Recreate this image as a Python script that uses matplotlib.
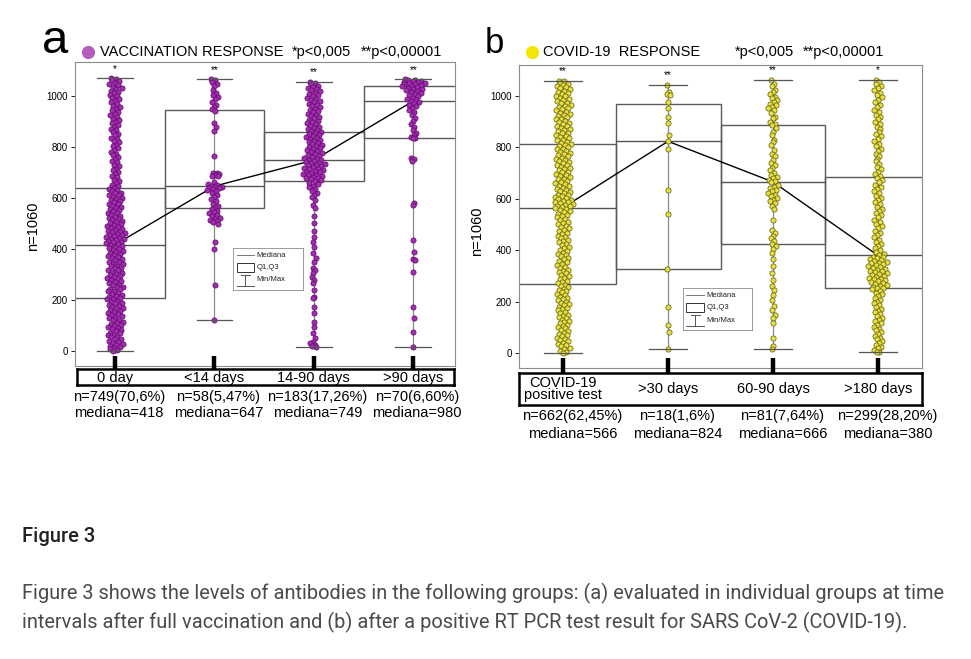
import numpy as np
import matplotlib
matplotlib.use('Agg')
import matplotlib.pyplot as plt
from matplotlib.patches import Rectangle
from matplotlib.lines import Line2D

plt.rcParams['font.family'] = ['Liberation Sans', 'DejaVu Sans']

# ---- panel a: vaccination response ----
vacc_labels = ['0 day', '<14 days', '14-90 days', '>90 days']
vacc_n = ['n=749(70,6%)', 'n=58(5,47%)', 'n=183(17,26%)', 'n=70(6,60%)']
vacc_median = [418, 647, 749, 980]
vacc_q1 = [208, 560, 669, 834]
vacc_q3 = [641, 945, 860, 1039]
vacc_min = [2, 123, 16, 16]
vacc_max = [1069, 1065, 1054, 1065]
vacc_stars = ['*', '**', '**', '**']

# antibody levels (dense clouds are thinned estimates)
vacc_0day = [1069, 1066, 1061, 1057, 1050, 1047, 1043, 1036, 1031, 1028, 1021, 1015, 1012, 1004, 999, 993,
             988, 980, 976, 969, 962, 958, 949, 944, 938, 931, 925, 919, 911, 906, 898, 893, 885, 879, 871,
             866, 858, 851, 846, 837, 831, 823, 818, 809, 803, 796, 790, 782, 774, 769, 760, 754, 746, 740,
             731, 725, 716, 710, 701, 695, 687, 681, 673, 667, 659, 652, 646,
             640, 637, 631, 628, 622, 620, 613, 611, 605, 602, 596, 593, 587, 584, 578, 576, 569, 567, 560,
             558, 552, 549, 543, 541, 534, 532, 526, 523, 517, 515, 509, 507, 501, 499, 493, 491, 486, 483,
             480, 476, 473, 469, 466, 463, 460, 457, 454, 451, 448, 445, 442, 439, 436, 433, 430, 427, 424, 421,
             417, 414, 408, 406, 400, 398, 392, 390, 384, 382, 376, 373, 368, 366, 360, 357, 352, 350, 344,
             341, 336, 334, 328, 325, 319, 317, 311, 309, 303, 300, 295, 292, 286, 284, 278, 276, 270, 268,
             262, 259, 253, 251, 245, 243, 237, 235, 229, 226, 221, 218, 212, 209,
             206, 204, 198, 195, 190, 188, 182, 179, 173, 171, 165, 163, 157, 154, 149, 146, 141, 138, 132,
             130, 124, 122, 116, 113, 108, 105, 99, 97, 91, 88, 83, 80, 74, 72, 66, 63, 58, 55, 49, 47, 41,
             38, 33, 30, 24, 22, 16, 13, 8, 5, 2]
vacc_14 = [1065, 1062, 1055, 1048, 1040, 1022, 1010, 1002, 995, 988, 978, 965, 955, 948, 942, 895, 880, 862,
           765, 700, 697, 693, 690, 688, 685, 662, 655, 652, 648, 645, 642, 640, 638, 636, 632, 628, 620, 612,
           603, 596, 588, 578, 570, 562, 556, 550, 545, 540, 535, 530, 524, 520, 516, 512, 505, 498, 430, 400,
           260, 122]
vacc_14_90 = [1054, 1049, 1045, 1041, 1036, 1032, 1027, 1022, 1018, 1013, 1008, 1003, 998, 994, 989, 984, 979,
              975, 969, 964, 960, 955, 950, 946, 941, 936, 931, 926, 921, 917, 912, 907, 902, 897, 893, 889,
              884, 879, 874, 870, 866, 862,
              858, 854, 850, 847, 843, 839, 835, 831, 827, 823, 819, 815, 811, 807, 803, 799, 795, 791, 788,
              784, 780, 776, 772, 768, 764, 760, 757, 753, 750,
              748, 745, 742, 739, 736, 734, 731, 728, 725, 722, 719, 716, 713, 710, 707, 704, 701, 698, 695,
              692, 689, 686, 683, 680, 677, 674, 671,
              667, 661, 655, 648, 642, 636, 629, 621, 613, 604,
              593, 575, 560, 530, 502, 470, 449, 430, 410, 384, 365, 351, 326, 319, 306, 293, 280, 267, 241,
              215, 208, 175, 150, 117, 97, 71, 52, 38, 32, 25, 21, 17]
vacc_90 = [1065, 1063, 1061, 1059, 1057, 1055, 1053, 1051, 1049, 1047, 1045, 1042, 1040, 1038, 1035, 1032,
           1029, 1026, 1022, 1018, 1014, 1010, 1006, 1002, 998, 994, 990, 985, 981, 977, 972, 966, 960, 953,
           945, 936, 926, 915, 903, 892, 880, 868, 857, 846, 840, 836, 834, 758, 752, 745, 580, 575, 436,
           391, 360, 356, 312, 175, 130, 78, 19]

# ---- panel b: covid-19 response ----
covid_labels = ['COVID-19\npositive test', '>30 days', '60-90 days', '>180 days']
covid_n = ['n=662(62,45%)', 'n=18(1,6%)', 'n=81(7,64%)', 'n=299(28,20%)']
covid_median = [566, 824, 666, 380]
covid_q1 = [268, 326, 423, 252]
covid_q3 = [813, 971, 887, 684]
covid_min = [1, 14, 17, 3]
covid_max = [1060, 1043, 1062, 1062]
covid_stars = ['**', '**', '**', '*']

covid_pos = [1060, 1057, 1051, 1048, 1042, 1039, 1034, 1030, 1027, 1020, 1017, 1011, 1008, 1002, 999, 993,
             990, 984, 981, 975, 972, 966, 963, 957, 954, 948, 945, 939, 936, 930, 927, 921, 918, 912, 909,
             903, 900, 894, 891, 885, 882, 876, 873, 867, 864, 858, 855, 849, 846, 840, 837, 831, 828, 822,
             819, 815,
             811, 805, 802, 796, 793, 787, 784, 778, 775, 769, 766, 760, 757, 751, 748, 742, 739, 733, 730,
             724, 721, 715, 712, 706, 703, 697, 694, 688, 685, 679, 676, 670, 667, 661, 658, 652, 649, 643,
             640, 634, 631, 626, 622, 617, 614, 610, 606, 602, 598, 595, 592, 589, 586, 583, 580, 577, 574,
             571, 568,
             565, 560, 557, 552, 548, 542, 538, 532, 528, 522, 518, 511, 507, 501, 496, 490, 486, 479, 475,
             468, 464, 457, 453, 446, 442, 435, 431, 424, 420, 413, 409, 402, 398, 391, 387, 380, 376, 369,
             365, 358, 354, 347, 343, 336, 332, 325, 321, 314, 310, 303, 299, 292, 288, 281, 277, 271,
             266, 260, 256, 250, 246, 240, 236, 230, 226, 220, 216, 210, 206, 200, 196, 190, 186, 180, 176,
             170, 166, 160, 156, 150, 146, 140, 136, 130, 126, 120, 116, 110, 106, 100, 96, 90, 86, 80, 76,
             70, 66, 60, 56, 50, 46, 40, 36, 30, 26, 20, 16, 10, 6, 2]
covid_30 = [1043, 1017, 1010, 1004, 978, 952, 919, 894, 848, 824, 796, 634, 541, 326, 180, 109, 83, 14]
covid_60_90 = [1062, 1049, 1040, 1023, 1016, 1010, 998, 991, 985, 978, 971, 965, 959, 952, 946, 933, 920, 914,
               900, 893, 888, 875, 862, 850, 830, 823, 810, 791, 776, 765, 752, 740, 733, 720, 713, 700, 694,
               687, 681, 674, 668, 664, 655, 648, 642, 636, 629, 623, 616, 610, 603, 597, 590, 584, 571, 560,
               519, 480, 467, 455, 447, 435, 425, 416, 405, 390, 365, 338, 310, 286, 260, 247, 225, 208, 185,
               169, 150, 137, 117, 60, 27, 17]
covid_180 = [1062, 1055, 1049, 1040, 1031, 1024, 1013, 1005, 996, 985, 977, 966, 958, 947, 939, 928, 919, 910,
             899, 891, 880, 871, 862, 851, 843, 832, 824, 813, 805, 794, 786, 775, 766, 755, 746, 735, 725,
             716, 705, 697, 689,
             680, 672, 664, 655, 647, 638, 630, 621, 613, 604, 596, 587, 579, 570, 562, 553, 545, 536, 528,
             519, 511, 502, 494, 485, 477, 468, 459, 451, 442, 434, 425, 416, 408, 400, 393, 386, 380,
             375, 372, 369, 366, 362, 359, 356, 352, 349, 345, 342, 339, 335, 332, 328, 325, 321, 318, 315,
             311, 308, 304, 301, 297, 294, 290, 287, 283, 280, 276, 273, 269, 266, 262, 259, 255, 253,
             249, 242, 235, 228, 221, 214, 207, 200, 193, 186, 179, 172, 165, 158, 151, 144, 137, 130, 123,
             116, 109, 102, 95, 88, 81, 74, 67, 60, 53, 46, 39, 32, 25, 18, 11, 5, 3]


def spread(vals, k=0.0085, cap=0.14):
    # horizontal offsets that grow with local point density (deterministic)
    v = np.asarray(vals, float)
    off = np.zeros(len(v))
    for i, y in enumerate(v):
        near = np.sum(np.abs(v - y) < 20) - 1
        hw = min(cap, 0.006 + k * near)
        u = (i * 0.6180339887) % 1.0 - 0.5
        off[i] = 2 * u * hw
    return off


def draw_panel(ax, groups, q1, med, q3, mn, mx, stars, face, edge, xlim, ylim):
    ax.set_xlim(*xlim)
    ax.set_ylim(*ylim)
    for i in range(len(groups)):
        ax.add_patch(Rectangle((i - 0.5, q1[i]), 1, q3[i] - q1[i], fill=False,
                               edgecolor='#5a5a5a', lw=1.0, zorder=1))
        ax.plot([i - 0.5, i + 0.5], [med[i], med[i]], color='#555555', lw=1.0, zorder=1)
        ax.plot([i, i], [mn[i], mx[i]], color='#8a8a8a', lw=0.9, zorder=1.5)
        ax.text(i, mx[i] + 38, stars[i], ha='center', va='center', fontsize=7)
    ax.plot(range(len(med)), med, color='black', lw=1.0, zorder=2)
    for i, vals in enumerate(groups):
        ax.scatter(i + spread(vals), vals, s=14, c=face, edgecolors=edge, linewidths=0.5, zorder=3)
    for i in range(len(groups)):
        for v in (mn[i], mx[i]):
            ax.plot([i - 0.18, i + 0.18], [v, v], color='#555555', lw=0.9, zorder=4)
    ax.set_yticks(range(0, 1001, 200))
    ax.set_xticks([])
    ax.tick_params(axis='y', labelsize=7, length=3, width=0.6, pad=2)
    for s in ax.spines.values():
        s.set_color('#8c8c8c')
        s.set_linewidth(0.8)
    ax.set_ylabel('n=1060', fontsize=10.5)
    # thick category markers above the label box
    tr = ax.get_xaxis_transform()
    for i in range(len(groups)):
        ax.plot([i, i], [-0.018, 0.034], color='black', lw=3.2, transform=tr, clip_on=False,
                solid_capstyle='butt', zorder=5)


def draw_key(ax, bounds):
    k = ax.inset_axes(bounds)
    k.set_xlim(0, 1)
    k.set_ylim(0, 1)
    k.set_xticks([])
    k.set_yticks([])
    k.set_zorder(6)
    for s in k.spines.values():
        s.set_color('#8c8c8c')
        s.set_linewidth(0.6)
    k.plot([0.05, 0.3], [0.83, 0.83], color='#777777', lw=0.7)
    k.add_patch(Rectangle((0.05, 0.44), 0.25, 0.2, fill=False, edgecolor='#333333', lw=0.7))
    k.plot([0.11, 0.24], [0.36, 0.36], color='#555555', lw=0.7)
    k.plot([0.175, 0.175], [0.36, 0.1], color='#555555', lw=0.7)
    k.plot([0.05, 0.3], [0.1, 0.1], color='#555555', lw=0.7)
    for y, t in zip([0.83, 0.54, 0.24], ['Mediana', 'Q1,Q3', 'Min/Max']):
        k.text(0.34, y, t, fontsize=5.5, va='center', color='#222222')


def draw_labels(box, labels, n_txt, med, xlim, y_lab, y_n, y_med, dx):
    box.set_xlim(*xlim)
    box.set_ylim(0, 1)
    box.set_xticks([])
    box.set_yticks([])
    for s in box.spines.values():
        s.set_color('black')
        s.set_linewidth(1.8)
    for i, lab in enumerate(labels):
        box.text(i, y_lab, lab, ha='center', va='center', fontsize=10.5, linespacing=0.85)
        box.text(i + dx, y_n, n_txt[i], ha='center', va='center', fontsize=10.5)
        box.text(i + dx, y_med, 'mediana=%d' % med[i], ha='center', va='center', fontsize=10.5)


W, H = 971, 659
fig = plt.figure(figsize=(W / 100, H / 100), dpi=100)

def fx(px):
    return px / W

def fy(py):
    return 1 - py / H

ax_a = fig.add_axes([fx(75), fy(366), fx(455) - fx(75), fy(62) - fy(366)])
xlim_a = (-0.403, 3.42)
draw_panel(ax_a, [vacc_0day, vacc_14, vacc_14_90, vacc_90], vacc_q1, vacc_median, vacc_q3,
           vacc_min, vacc_max, vacc_stars, '#a42cb2', '#5a0a64', xlim_a, (-57, 1133))
ax_a.yaxis.set_label_coords(-0.093, 0.46)
draw_key(ax_a, [0.416, 0.25, 0.184, 0.138])

ax_b = fig.add_axes([fx(519), fy(368), fx(922) - fx(519), fy(65) - fy(368)])
xlim_b = (-0.42, 3.42)
draw_panel(ax_b, [covid_pos, covid_30, covid_60_90, covid_180], covid_q1, covid_median, covid_q3,
           covid_min, covid_max, covid_stars, '#e6e040', '#5e5a10', xlim_b, (-58, 1121))
ax_b.yaxis.set_label_coords(-0.087, 0.45)
draw_key(ax_b, [0.407, 0.125, 0.171, 0.139])

box_a = fig.add_axes([fx(77), fy(385), fx(454) - fx(77), fy(369) - fy(385)])
draw_labels(box_a, vacc_labels, vacc_n, vacc_median, (-0.383, 3.413), 0.45, -0.72, -1.78, 0.04)

box_b = fig.add_axes([fx(519), fy(405), fx(922) - fx(519), fy(373) - fy(405)])
draw_labels(box_b, covid_labels, covid_n, covid_median, xlim_b, 0.5, -0.35, -0.92, 0.09)

# panel headings
fig.text(fx(42), fy(53), 'a', fontsize=34, va='baseline')
fig.text(fx(485), fy(53), 'b', fontsize=25, va='baseline')
fig.add_artist(Line2D([fx(88)], [fy(52)], marker='o', markersize=8.5, color='#b45cc0',
                      transform=fig.transFigure))
fig.add_artist(Line2D([fx(532)], [fy(52)], marker='o', markersize=8.5, color='#f3e600',
                      transform=fig.transFigure))
fig.text(fx(100), fy(52), 'VACCINATION RESPONSE', fontsize=10.5, va='center')
fig.text(fx(292), fy(52), '*p<0,005', fontsize=10.5, va='center')
fig.text(fx(361), fy(52), '**p<0,00001', fontsize=10.5, va='center')
fig.text(fx(543), fy(52), 'COVID-19  RESPONSE', fontsize=10.5, va='center')
fig.text(fx(735), fy(52), '*p<0,005', fontsize=10.5, va='center')
fig.text(fx(803), fy(52), '**p<0,00001', fontsize=10.5, va='center')

# caption
fig.text(fx(22), fy(537), 'Figure 3', fontsize=14.5, va='center', family='Roboto',
         fontweight='medium', color='#222222')
fig.text(fx(22), fy(593), 'Figure 3 shows the levels of antibodies in the following groups: (a) evaluated '
         'in individual groups at time', fontsize=14.4, va='center', family='Roboto', color='#4a4a4a')
fig.text(fx(22), fy(622), 'intervals after full vaccination and (b) after a positive RT PCR test result '
         'for SARS CoV-2 (COVID-19).', fontsize=14.4, va='center', family='Roboto', color='#4a4a4a')

fig.savefig('out.png', dpi=100)
